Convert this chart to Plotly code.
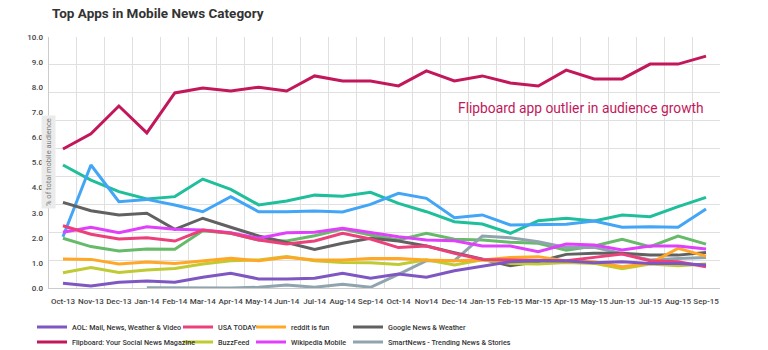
import plotly.graph_objects as go

months = ["Oct-13", "Nov-13", "Dec-13", "Jan-14", "Feb-14", "Mar-14", "Apr-14", "May-14",
          "Jun-14", "Jul-14", "Aug-14", "Sep-14", "Oct-14", "Nov14", "Dec-14", "Jan-15",
          "Feb-15", "Mar-15", "Apr-15", "May-15", "Jun-15", "Jul-15", "Aug-15", "Sep-15"]

flipboard = [5.54, 6.14, 7.25, 6.18, 7.77, 7.97, 7.85, 8.0, 7.85, 8.45, 8.25, 8.25,
             8.05, 8.65, 8.25, 8.45, 8.17, 8.05, 8.68, 8.33, 8.33, 8.92, 8.92, 9.24]
teal_app = [4.9, 4.3, 3.84, 3.55, 3.64, 4.34, 3.93, 3.31, 3.47, 3.7, 3.66, 3.81,
            3.37, 3.04, 2.64, 2.55, 2.18, 2.68, 2.78, 2.67, 2.91, 2.84, 3.24, 3.61]
blue_app = [2.04, 4.9, 3.44, 3.53, 3.31, 3.04, 3.64, 3.04, 3.04, 3.07, 3.03, 3.33,
            3.77, 3.57, 2.8, 2.91, 2.51, 2.54, 2.54, 2.67, 2.42, 2.44, 2.42, 3.15]
google = [3.41, 3.08, 2.91, 2.98, 2.34, 2.78, 2.42, 2.07, 1.81, 1.54, 1.78, 1.98,
          1.87, 1.67, 1.41, 1.14, 0.89, 1.05, 1.34, 1.38, 1.38, 1.31, 1.31, 1.41]
usa_today = [2.48, 2.14, 1.95, 2.0, 1.87, 2.31, 2.18, 1.91, 1.75, 1.87, 2.18, 1.95,
             1.61, 1.67, 1.38, 1.14, 1.12, 1.12, 1.09, 1.22, 1.35, 1.09, 1.05, 0.85]
wikipedia = [2.22, 2.42, 2.2, 2.44, 2.34, 2.31, 2.2, 1.98, 2.2, 2.22, 2.38, 2.22,
             2.04, 1.91, 1.88, 1.67, 1.67, 1.45, 1.75, 1.71, 1.51, 1.67, 1.67, 1.55]
green_app = [1.98, 1.65, 1.47, 1.55, 1.54, 2.28, 2.18, 1.91, 1.87, 2.08, 2.35, 2.11,
             1.91, 2.18, 1.94, 1.91, 1.82, 1.78, 1.51, 1.67, 1.94, 1.65, 2.07, 1.75]
reddit = [1.16, 1.14, 0.96, 1.04, 0.98, 1.09, 1.18, 1.09, 1.22, 1.12, 1.12, 1.18,
          1.18, 1.12, 1.09, 1.12, 1.22, 1.25, 1.08, 1.05, 0.85, 0.98, 1.58, 1.27]
buzzfeed = [0.61, 0.82, 0.62, 0.72, 0.78, 0.96, 1.09, 1.12, 1.25, 1.09, 1.02, 1.01,
            0.94, 1.12, 0.92, 1.12, 0.98, 0.96, 1.02, 0.98, 0.77, 0.96, 0.89, 0.96]
aol = [0.19, 0.08, 0.23, 0.28, 0.23, 0.43, 0.59, 0.36, 0.36, 0.39, 0.59, 0.39,
       0.56, 0.43, 0.69, 0.88, 1.05, 1.09, 1.08, 1.01, 1.05, 0.98, 0.98, 0.92]
smartnews = [None, None, None, 0.01, 0.0, 0.0, 0.0, 0.03, 0.12, 0.03, 0.15, 0.03,
             0.54, 1.09, 1.09, 2.07, 2.0, 1.84, 1.61, 1.62, 1.38, 1.12, 1.18, 1.22]

y_labels = [0, 1, 2, 3, 4, 5, 6, 7, 8, 9, 10]
grid_steps = [k * 10 / 9 for k in range(10)]

series = [
    ("teal", teal_app, "#1fbf9b", None),
    ("blue", blue_app, "#42a5f5", None),
    ("green", green_app, "#66bb6a", None),
    ("SmartNews - Trending News & Stories", smartnews, "#90a4ae", "legend8"),
    ("Google News & Weather", google, "#616161", "legend4"),
    ("BuzzFeed", buzzfeed, "#c0ca33", "legend6"),
    ("reddit is fun", reddit, "#ffa726", "legend3"),
    ("Wikipedia Mobile", wikipedia, "#e040fb", "legend7"),
    ("USA TODAY", usa_today, "#ec407a", "legend2"),
    ("AOL: Mail, News, Weather & Video", aol, "#7e57c2", "legend"),
    ("Flipboard: Your Social News Magazine", flipboard, "#c2185b", "legend5"),
]

fig = go.Figure()
for name, vals, color, leg in series:
    fig.add_trace(go.Scatter(
        x=months, y=vals, mode="lines", name=name,
        line=dict(color=color, width=3),
        showlegend=leg is not None,
        legend=leg if leg else "legend",
        connectgaps=False,
    ))

fig.add_trace(go.Scatter(x=[months[0]], y=[None], yaxis="y2", showlegend=False,
                         hoverinfo="skip", mode="lines"))

# legend placement: 4 columns x 2 rows (pixel positions converted to paper units)
L, T, W, H = 49, 37, 671, 251
col_x = [32, 178, 251, 348]
row_y = [327, 342]
legend_order = ["legend", "legend2", "legend3", "legend4",
                "legend5", "legend6", "legend7", "legend8"]
leg_font = dict(family="Roboto", size=7.2, color="#333333", weight=500)
for i, lg in enumerate(legend_order):
    cx = col_x[i % 4]
    cy = row_y[i // 4]
    fig.update_layout({lg: dict(
        x=(cx - L) / W, y=(T + H - cy) / H, xref="paper", yref="paper",
        xanchor="left", yanchor="middle", orientation="v",
        font=leg_font, bgcolor="rgba(0,0,0,0)", itemwidth=30,
        tracegroupgap=0,
    )})

fig.update_layout(
    width=768, height=350,
    margin=dict(l=L, r=768 - L - W, t=T, b=350 - T - H, autoexpand=False),
    paper_bgcolor="white", plot_bgcolor="white",
    title=dict(text="<b>Top Apps in Mobile News Category</b>",
               font=dict(family="Roboto", size=13.5, color="#333333"),
               x=52 / 768, xref="container", xanchor="left",
               y=1 - 13 / 350, yref="container", yanchor="middle"),
    xaxis=dict(type="category", categoryorder="array", categoryarray=months,
               range=[-0.5, len(months) - 0.5], tickson="boundaries",
               showgrid=True, gridcolor="#e0e0e0", gridwidth=1,
               ticks="", showline=True, linecolor="#cccccc", linewidth=1,
               tickfont=dict(family="Roboto", size=8, color="#444444", weight=500),
               tickangle=0, zeroline=False, ticklabelstandoff=5),
    yaxis=dict(range=[0, 10], tickvals=grid_steps, showticklabels=False,
               showgrid=True, gridcolor="#e0e0e0", gridwidth=1, zeroline=False,
               showline=True, linecolor="#cccccc", linewidth=1, ticks=""),
    yaxis2=dict(range=[0, 10], overlaying="y", side="left", showgrid=False,
                zeroline=False, showline=False, ticks="",
                tickvals=y_labels, ticktext=[f"{v:.1f}" for v in y_labels],
                tickfont=dict(family="Roboto", size=8, color="#444444", weight=500),
                ticklabelstandoff=5),
    showlegend=True,
)

fig.add_annotation(text="% of total mobile audience", textangle=-90,
                   xref="paper", yref="paper", x=(48 - L) / W, y=(T + H - 162) / H,
                   showarrow=False, bgcolor="#ebebeb",
                   font=dict(family="Roboto", size=7.5, color="#808080"),
                   xanchor="center", yanchor="middle", borderpad=2)

fig.add_annotation(text="Flipboard app outlier in audience growth",
                   xref="paper", yref="paper", x=(706 - L) / W, y=(T + H - 108) / H,
                   xanchor="right", yanchor="middle", showarrow=False,
                   font=dict(family="Roboto", size=13.8, color="#c2185b"))

fig.write_html("out.html")
